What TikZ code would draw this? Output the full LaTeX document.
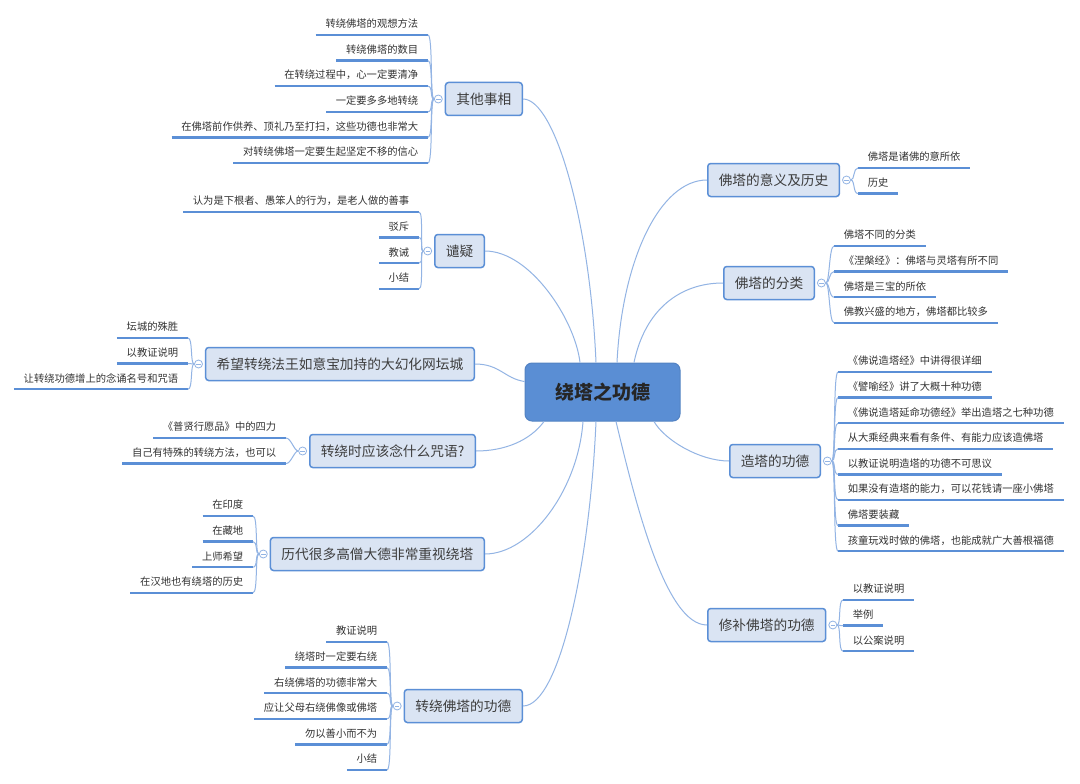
\documentclass[tikz,border=0pt]{standalone}
\usepackage{fontspec}
\setmainfont{Noto Sans CJK SC}
\usepackage{tikz}
\usetikzlibrary{calc,positioning}

\definecolor{linkblue}{HTML}{93B4E4}
\definecolor{lineblue}{HTML}{5B8FD6}
\definecolor{boxfill}{HTML}{DAE4F3}
\definecolor{rootfill}{HTML}{5A8ED4}
\definecolor{txt}{HTML}{333333}

\tikzset{
  root/.style={draw=rootfill!92!black, fill=rootfill, rounded corners=7pt, line width=1pt,
    minimum width=155pt, minimum height=58pt, text=black!85,
    font=\fontsize{19}{22}\selectfont\bfseries},
  topic/.style={draw=lineblue, fill=boxfill, rounded corners=3pt, line width=1.5pt,
    minimum height=33pt, inner xsep=11pt, text=txt!95,
    font=\fontsize{13.7}{16}\selectfont},
  leaf/.style={inner xsep=9.6pt, inner ysep=6pt, text height=8.5pt, text depth=1pt,
    text=txt, font=\fontsize{10.3}{12}\selectfont},
  leafr/.style={leaf, anchor=south west},
  leafl/.style={leaf, anchor=south east},
  uline/.style={draw=lineblue, line width=2.5pt},
  link/.style={draw=linkblue, line width=1pt},
  fold/.style={circle, draw=linkblue, fill=white, inner sep=0pt, minimum size=8pt, line width=0.8pt,
    path picture={\draw[linkblue, line width=0.6pt]
      ([xshift=-2.2pt]path picture bounding box.center) -- ([xshift=2.2pt]path picture bounding box.center);}},
}

\begin{document}
\begin{tikzpicture}[x=1pt, y=-1pt]
  \fill[white] (0,0) rectangle (1080,784);
  \useasboundingbox (0,0) rectangle (1080,784);

  % centre
  \node[root] (root) at (602.5,392) {绕塔之功德};

  % branches
  \node[topic, anchor=west] (r1) at (707,180) {佛塔的意义及历史};
  \node[topic, anchor=west] (r2) at (723,283) {佛塔的分类};
  \node[topic, anchor=west] (r3) at (729,461) {造塔的功德};
  \node[topic, anchor=west] (r4) at (707,625) {修补佛塔的功德};
  \node[topic, anchor=east] (l1) at (523,99) {其他事相};
  \node[topic, anchor=east] (l2) at (485,251) {谴疑};
  \node[topic, anchor=east] (l3) at (475,364) {希望转绕法王如意宝加持的大幻化网坛城};
  \node[topic, anchor=east] (l4) at (476,451) {转绕时应该念什么咒语?};
  \node[topic, anchor=east] (l5) at (485,554) {历代很多高僧大德非常重视绕塔};
  \node[topic, anchor=east] (l6) at (523,706) {转绕佛塔的功德};

  \draw[link] ($(root.north)+(-6.5,0)$) .. controls +(-6,-140) and +(32,0) .. (l1.east);
  \draw[link] ($(root.north)+(-22.5,0)$) .. controls +(-5,-43) and +(45,0) .. (l2.east);
  \draw[link] ($(root.north west)+(0,19)$) .. controls +(-20,-3) and +(25,0) .. (l3.east);
  \draw[link] ($(root.south)+(-58.5,0)$) .. controls +(-14,19) and +(29,0) .. (l4.east);
  \draw[link] ($(root.south)+(-19.5,0)$) .. controls +(-5,69) and +(45,0) .. (l5.east);
  \draw[link] ($(root.south)+(-6.5,0)$) .. controls +(-6,139) and +(37,0) .. (l6.east);
  \draw[link] ($(root.north)+(14.5,0)$) .. controls +(5,-103) and +(-47,0) .. (r1.west);
  \draw[link] ($(root.north)+(31.5,0)$) .. controls +(11,-53) and +(-43,0) .. (r2.west);
  \draw[link] ($(root.south)+(51.5,0)$) .. controls +(11,19) and +(-29,0) .. (r3.west);
  \draw[link] ($(root.south)+(13.5,0)$) .. controls +(19,79) and +(-42,0) .. (r4.west);

  % right leaves
  \node[fold, right=2pt of r1] (r1f) {};
  \foreach \t [count=\i] in {佛塔是诸佛的意所依, 历史}{
    \node[leafr] (r1c\i) at (858,{168+25.6*(\i-1)}) {\t};
    \draw[uline] (r1c\i.south west) -- (r1c\i.south east);
    \draw[link] (r1f.east) .. controls +(4,0) and +(-5,0) .. (r1c\i.south west);
  }
  \node[fold, right=2pt of r2] (r2f) {};
  \foreach \t [count=\i] in {佛塔不同的分类, 《涅槃经》：佛塔与灵塔有所不同, 佛塔是三宝的所依,
      佛教兴盛的地方，佛塔都比较多}{
    \node[leafr] (r2c\i) at (834,{246+25.6*(\i-1)}) {\t};
    \draw[uline] (r2c\i.south west) -- (r2c\i.south east);
    \draw[link] (r2f.east) .. controls +(4,0) and +(-5,0) .. (r2c\i.south west);
  }
  \node[fold, right=2pt of r3] (r3f) {};
  \foreach \t [count=\i] in {《佛说造塔经》中讲得很详细, 《譬喻经》讲了大概十种功德,
      《佛说造塔延命功德经》举出造塔之七种功德, 从大乘经典来看有条件、有能力应该造佛塔,
      以教证说明造塔的功德不可思议, 如果没有造塔的能力，可以花钱请一座小佛塔,
      佛塔要装藏, 孩童玩戏时做的佛塔，也能成就广大善根福德}{
    \node[leafr] (r3c\i) at (838,{372+25.6*(\i-1)}) {\t};
    \draw[uline] (r3c\i.south west) -- (r3c\i.south east);
    \draw[link] (r3f.east) .. controls +(4,0) and +(-5,0) .. (r3c\i.south west);
  }
  \node[fold, right=2pt of r4] (r4f) {};
  \foreach \t [count=\i] in {以教证说明, 举例, 以公案说明}{
    \node[leafr] (r4c\i) at (843,{600+25.6*(\i-1)}) {\t};
    \draw[uline] (r4c\i.south west) -- (r4c\i.south east);
    \draw[link] (r4f.east) .. controls +(4,0) and +(-5,0) .. (r4c\i.south west);
  }

  % left leaves
  \node[fold, left=2pt of l1] (l1f) {};
  \foreach \t [count=\i] in {转绕佛塔的观想方法, 转绕佛塔的数目, 在转绕过程中，心一定要清净,
      一定要多多地转绕, 在佛塔前作供养、顶礼乃至打扫，这些功德也非常大,
      对转绕佛塔一定要生起坚定不移的信心}{
    \node[leafl] (l1c\i) at (428,{35+25.6*(\i-1)}) {\t};
    \draw[uline] (l1c\i.south west) -- (l1c\i.south east);
    \draw[link] (l1f.west) .. controls +(-4,0) and +(5,0) .. (l1c\i.south east);
  }
  \node[fold, left=2pt of l2] (l2f) {};
  \foreach \t [count=\i] in {认为是下根者、愚笨人的行为，是老人做的善事, 驳斥, 教诫, 小结}{
    \node[leafl] (l2c\i) at (419,{212+25.6*(\i-1)}) {\t};
    \draw[uline] (l2c\i.south west) -- (l2c\i.south east);
    \draw[link] (l2f.west) .. controls +(-4,0) and +(5,0) .. (l2c\i.south east);
  }
  \node[fold, left=2pt of l3] (l3f) {};
  \foreach \t [count=\i] in {坛城的殊胜, 以教证说明, 让转绕功德增上的念诵名号和咒语}{
    \node[leafl] (l3c\i) at (188,{338+25.6*(\i-1)}) {\t};
    \draw[uline] (l3c\i.south west) -- (l3c\i.south east);
    \draw[link] (l3f.west) .. controls +(-4,0) and +(5,0) .. (l3c\i.south east);
  }
  \node[fold, left=2pt of l4] (l4f) {};
  \foreach \t [count=\i] in {《普贤行愿品》中的四力, 自己有特殊的转绕方法，也可以}{
    \node[leafl] (l4c\i) at (286,{438+25.6*(\i-1)}) {\t};
    \draw[uline] (l4c\i.south west) -- (l4c\i.south east);
    \draw[link] (l4f.west) .. controls +(-4,0) and +(5,0) .. (l4c\i.south east);
  }
  \node[fold, left=2pt of l5] (l5f) {};
  \foreach \t [count=\i] in {在印度, 在藏地, 上师希望, 在汉地也有绕塔的历史}{
    \node[leafl] (l5c\i) at (253,{516+25.6*(\i-1)}) {\t};
    \draw[uline] (l5c\i.south west) -- (l5c\i.south east);
    \draw[link] (l5f.west) .. controls +(-4,0) and +(5,0) .. (l5c\i.south east);
  }
  \node[fold, left=2pt of l6] (l6f) {};
  \foreach \t [count=\i] in {教证说明, 绕塔时一定要右绕, 右绕佛塔的功德非常大,
      应让父母右绕佛像或佛塔, 勿以善小而不为, 小结}{
    \node[leafl] (l6c\i) at (387,{642+25.6*(\i-1)}) {\t};
    \draw[uline] (l6c\i.south west) -- (l6c\i.south east);
    \draw[link] (l6f.west) .. controls +(-4,0) and +(5,0) .. (l6c\i.south east);
  }
\end{tikzpicture}
\end{document}
